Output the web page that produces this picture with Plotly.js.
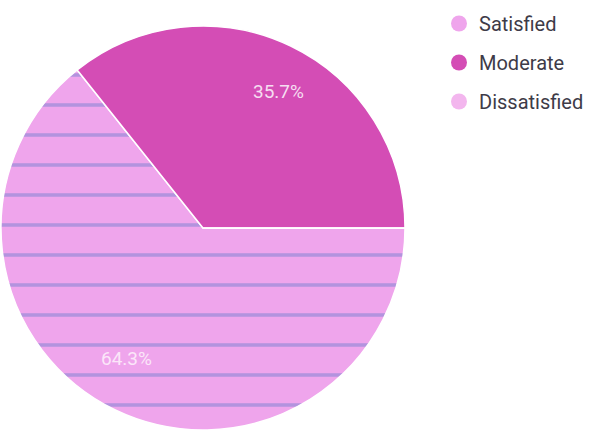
<!DOCTYPE html>
<html>
<head>
<meta charset="utf-8">
<script src="https://cdn.plot.ly/plotly-3.0.1.min.js"></script>
<style>html,body{margin:0;padding:0;background:#fff;}#chart{width:592px;height:443px;}</style>
</head>
<body>
<div id="chart"></div>
<script>
const categories = ["Satisfied", "Moderate", "Dissatisfied"];
const values = [64.3, 35.7, 0];
const sliceColors = ["#EFA5EC", "#D44DB5", "#F3B6EE"];
const labelColors = ["#FBE6F9", "#F6DDF1", "#FFFFFF"];

const W = 592, H = 443;
const cx = 203, cy = 228, R = 202;

const pie = {
  type: "pie",
  labels: categories,
  values: values,
  sort: false,
  direction: "clockwise",
  rotation: 90,
  textinfo: "none",
  marker: {
    colors: sliceColors,
    line: {color: "#FFFFFF", width: 1.5},
    pattern: {shape: ["-", "", ""], size: 30, solidity: 0.12, fgcolor: "#9A8CD8", fgopacity: 0.7, fillmode: "overlay"}
  },
  domain: {x: [(cx - R) / W, (cx + R) / W], y: [(H - cy - R) / H, (H - cy + R) / H]},
  showlegend: false,
  hoverinfo: "label+percent"
};

const legendTraces = categories.map((c, i) => ({
  type: "scatter",
  x: [null], y: [null],
  mode: "markers",
  name: c,
  legendgroup: "g" + i,
  marker: {symbol: "circle", size: 22, color: sliceColors[i]},
  showlegend: true,
  hoverinfo: "skip"
}));

// percentage labels placed along each slice's direction (computed from values)
const total = values.reduce((a, b) => a + b, 0);
const radialFrac = [0.88, 0.83, 0.8];
const angleShift = [10, 1, 0];
const annotations = [];
let start = 90; // degrees clockwise from 12 o'clock
values.forEach((v, i) => {
  const span = v / total * 360;
  if (v > 0) {
    const mid = (start + span / 2 + angleShift[i]) * Math.PI / 180;
    const px = cx + Math.sin(mid) * R * radialFrac[i];
    const py = cy - Math.cos(mid) * R * radialFrac[i];
    annotations.push({
      x: px / W, y: 1 - py / H, xref: "paper", yref: "paper",
      text: (v / total * 100).toFixed(1) + "%",
      showarrow: false,
      font: {family: "Roboto", size: 19, color: labelColors[i]}
    });
  }
  start += span;
});

const layout = {
  width: W, height: H,
  margin: {l: 0, r: 0, t: 0, b: 0},
  paper_bgcolor: "#FFFFFF",
  plot_bgcolor: "#FFFFFF",
  xaxis: {visible: false},
  yaxis: {visible: false},
  showlegend: true,
  annotations: annotations,
  legend: {
    x: 439 / W, y: 1 - 4 / H, xanchor: "left", yanchor: "top",
    font: {family: "Roboto", size: 20, color: "#3E3B48"},
    tracegroupgap: 10,
    itemwidth: 30,
    bgcolor: "rgba(0,0,0,0)"
  }
};

Plotly.newPlot("chart", [pie].concat(legendTraces), layout, {displayModeBar: false, staticPlot: true});
</script>
</body>
</html>
